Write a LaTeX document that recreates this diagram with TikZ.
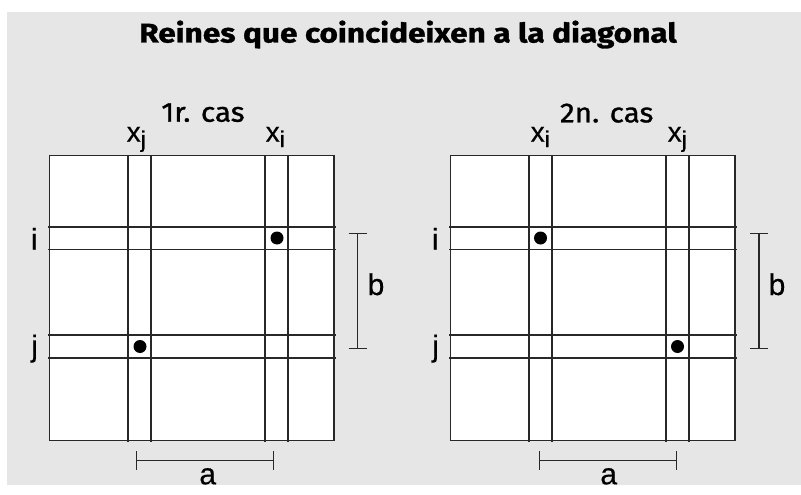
\documentclass[tikz,border=0pt]{standalone}
\usepackage{fontspec}
\setmainfont{Liberation Sans}
\newfontfamily\lblfont[FakeBold=0.4]{Liberation Sans}
\newfontfamily\titlefont[FakeStretch=1.17,FakeBold=1.2]{Fira Sans}
\newfontfamily\casefont[FakeStretch=1.08,FakeBold=1.2]{Fira Sans}
\definecolor{bg}{RGB}{230,230,230}
\definecolor{ink}{RGB}{40,40,40}
\tikzset{
  gridline/.style={draw=ink,line width=1.2pt},
  border/.style={draw=ink,line width=1.4pt},
  bracket/.style={draw=ink,line width=1.2pt},
  queen/.style={fill=black},
  lbl/.style={inner sep=0pt,font=\lblfont\fontsize{30}{30}\selectfont},
  xlbl/.style={inner sep=0pt,font=\lblfont\fontsize{28}{28}\selectfont},
  caselbl/.style={inner sep=0pt,font=\casefont\fontsize{27.5}{27.5}\selectfont},
  titlelbl/.style={inner sep=0pt,font=\titlefont\bfseries\fontsize{27}{27}\selectfont}
}
\newcommand{\subx}[1]{x\raisebox{-5.5pt}{\fontsize{23}{23}\selectfont #1}}
\begin{document}
\begin{tikzpicture}[x=1pt,y=-1pt]
\useasboundingbox (0,0) rectangle (801,495);
\fill[white] (0,0) rectangle (801,495);
\fill[bg] (7,12) rectangle (801,485);
\node[titlelbl,anchor=base] (title) at (408,42.5) {Reines que coincideixen a la diagonal};
\node[caselbl,anchor=base] (case1) at (203,121.7) {1r. cas};
\node[caselbl,anchor=base] (case2) at (606.7,122.3) {2n. cas};
% board 1
\fill[white] (49.5,155.5) rectangle (334,440.5);
\foreach \x in {128,151,265,288} \draw[gridline] (\x,155.5) -- (\x,442);
\foreach \y in {227,249.5,335,358} \draw[gridline] (48,\y) -- (336,\y);
\draw[border] (49.5,155.5) rectangle (334,440.5);
\fill[queen] (277,238) circle (6.5pt);
\fill[queen] (140,346.5) circle (6.5pt);
\node[xlbl,anchor=base west] (xj1) at (126.5,141.7) {\subx{j}};
\node[xlbl,anchor=base west] (xi1) at (265.5,141.7) {\subx{i}};
\node[lbl,anchor=base] (i1) at (34.2,249.7) {i};
\node[lbl,anchor=base] (j1) at (34.6,356.4) {j};
\coordinate (b1t) at (357.7,233.3);
\coordinate (b1b) at (357.7,348.3);
\draw[bracket] (b1t) -- (b1b);
\draw[bracket] ([xshift=-9pt]b1t) -- ([xshift=9pt]b1t);
\draw[bracket] ([xshift=-9pt]b1b) -- ([xshift=9pt]b1b);
\node[lbl,anchor=base] (bl1) at (376,295) {b};
\coordinate (a1l) at (136.7,460.7);
\coordinate (a1r) at (273.7,460.7);
\draw[bracket] (a1l) -- (a1r);
\draw[bracket] ([yshift=-9.3pt]a1l) -- ([yshift=9.3pt]a1l);
\draw[bracket] ([yshift=-9.3pt]a1r) -- ([yshift=9.3pt]a1r);
\node[lbl,anchor=base] (al1) at (207.7,484.3) {a};
% board 2
\begin{scope}[xshift=401pt]
\fill[white] (49.5,155.5) rectangle (334,440.5);
\foreach \x in {128,151,265,288} \draw[gridline] (\x,155.5) -- (\x,442);
\foreach \y in {227,249.5,335,358} \draw[gridline] (48,\y) -- (336,\y);
\draw[border] (49.5,155.5) rectangle (334,440.5);
\fill[queen] (139.5,238) circle (6.5pt);
\fill[queen] (276.5,346.5) circle (6.5pt);
\node[xlbl,anchor=base west] (xi2) at (129.5,141.7) {\subx{i}};
\node[xlbl,anchor=base west] (xj2) at (266.5,141.7) {\subx{j}};
\node[lbl,anchor=base] (i2) at (34.2,249.7) {i};
\node[lbl,anchor=base] (j2) at (34.6,356.4) {j};
\coordinate (b2t) at (358,233.3);
\coordinate (b2b) at (358,348.3);
\draw[bracket] (b2t) -- (b2b);
\draw[bracket] ([xshift=-9pt]b2t) -- ([xshift=9pt]b2t);
\draw[bracket] ([xshift=-9pt]b2b) -- ([xshift=9pt]b2b);
\node[lbl,anchor=base] (bl2) at (376,295) {b};
\coordinate (a2l) at (138.7,460.7);
\coordinate (a2r) at (275.3,460.7);
\draw[bracket] (a2l) -- (a2r);
\draw[bracket] ([yshift=-9.3pt]a2l) -- ([yshift=9.3pt]a2l);
\draw[bracket] ([yshift=-9.3pt]a2r) -- ([yshift=9.3pt]a2r);
\node[lbl,anchor=base] (al2) at (207.7,484.3) {a};
\end{scope}
\end{tikzpicture}
\end{document}
